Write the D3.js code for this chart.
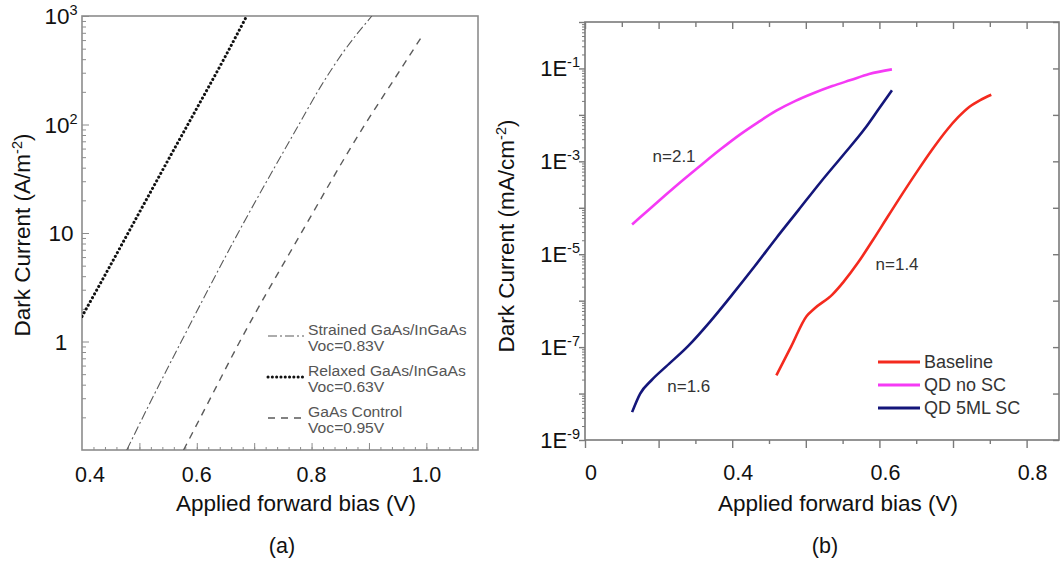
<!DOCTYPE html>
<html><head><meta charset="utf-8">
<script src="https://cdn.jsdelivr.net/npm/d3@7"></script>
<style>
body{margin:0;background:#fff}
svg{display:block}
text{font-family:"Liberation Sans",Arial,Helvetica,sans-serif}
</style>
</head><body>
<svg id="c" width="1061" height="562"></svg>
<script>
// ---------- Panel (a) data ----------
const aStrainedV = [0.478, 0.516, 0.573, 0.672, 0.778, 0.815, 0.852, 0.905];
const aStrainedJ = [0.1, 0.256, 1, 10, 100, 220, 440, 1000];
const aRelaxedV  = [0.400, 0.450, 0.500, 0.550, 0.600, 0.650, 0.687];
const aRelaxedJ  = [1.7, 5.1, 15.5, 47, 141, 427, 1000];
const aControlV  = [0.577, 0.617, 0.675, 0.782, 0.893, 0.945, 0.992];
const aControlJ  = [0.1, 0.256, 1, 10, 100, 266, 646];
const aXTickValues = [0.4, 0.6, 0.8, 1.0];
const aXTickLabels = ["0.4", "0.6", "0.8", "1.0"];
const aYTickValues = [1, 10, 100, 1000];
const aYTickBase   = ["1", "10", "10", "10"];
const aYTickSup    = ["", "", "2", "3"];
const aLegendNames = ["Strained GaAs/InGaAs", "Relaxed GaAs/InGaAs", "GaAs Control"];
const aLegendVoc   = ["Voc=0.83V", "Voc=0.63V", "Voc=0.95V"];

// ---------- Panel (b) data ----------
const bBaselineV = [0.460, 0.480, 0.501, 0.511, 0.536, 0.551, 0.571, 0.591, 0.611, 0.632, 0.652, 0.672, 0.692, 0.707, 0.722, 0.737, 0.752];
const bBaselineJ = [2.46e-8, 1.02e-7, 4.63e-7, 6.62e-7, 1.35e-6, 2.51e-6, 6.61e-6, 2.00e-5, 6.31e-5, 2.09e-4, 6.31e-4, 1.82e-3, 4.79e-3, 8.91e-3, 1.48e-2, 2.09e-2, 2.72e-2];
const bNoScV = [0.264, 0.284, 0.309, 0.334, 0.360, 0.385, 0.410, 0.435, 0.460, 0.486, 0.511, 0.536, 0.561, 0.586, 0.617];
const bNoScJ = [4.37e-5, 8.32e-5, 1.86e-4, 4.07e-4, 8.91e-4, 1.86e-3, 3.72e-3, 6.92e-3, 1.23e-2, 2.00e-2, 2.95e-2, 4.17e-2, 5.62e-2, 7.59e-2, 9.55e-2];
const b5mlV = [0.264, 0.275, 0.290, 0.310, 0.340, 0.370, 0.400, 0.430, 0.460, 0.490, 0.520, 0.550, 0.580, 0.600, 0.617];
const b5mlJ = [3.98e-9, 1.00e-8, 1.91e-8, 3.80e-8, 1.05e-7, 3.55e-7, 1.35e-6, 5.37e-6, 2.24e-5, 8.91e-5, 3.55e-4, 1.32e-3, 5.01e-3, 1.41e-2, 3.39e-2];
const bXTickValues = [0.2, 0.4, 0.6, 0.8];
const bXTickLabels = ["0", "0.4", "0.6", "0.8"];
const bYTickValues = [1e-1, 1e-3, 1e-5, 1e-7, 1e-9];
const bYTickSup    = ["-1", "-3", "-5", "-7", "-9"];
const bLegendNames = ["Baseline", "QD no SC", "QD 5ML SC"];
const bColors      = ["#f42a1e", "#f53af5", "#14167a"];
const bAnnotText = ["n=2.1", "n=1.6", "n=1.4"];
const bAnnotV    = [0.321, 0.341, 0.624];
const bAnnotJ    = [1.3e-3, 1.45e-8, 6.3e-6];

const svg = d3.select("#c");

// ================= Panel (a) =================
const xa = d3.scaleLinear().domain([0.4, 1.09]).range([82, 478]);
const ya = d3.scaleLog().domain([0.1, 1000]).range([450, 16]);
const ga = svg.append("g");
const frameA = "#8c8c8c";

const axMinor = d3.range(0.42, 1.0801, 0.02);
const axMajor = d3.range(0.5, 1.0801, 0.1);
ga.append("g").attr("transform", `translate(0,${ya.range()[0]})`)
  .call(d3.axisBottom(xa).tickValues(axMinor).tickSize(-3).tickFormat(""))
  .call(g => g.select(".domain").remove())
  .selectAll("line").attr("stroke", frameA);
ga.append("g").attr("transform", `translate(0,${ya.range()[0]})`)
  .call(d3.axisBottom(xa).tickValues(axMajor).tickSize(-7).tickFormat(""))
  .call(g => g.select(".domain").remove())
  .selectAll("line").attr("stroke", frameA);
const ayMinor = ya.ticks().filter(v => !aYTickValues.includes(v) && v > 0.1 && v < 1000);
ga.append("g").attr("transform", `translate(${xa.range()[0]},0)`)
  .call(d3.axisLeft(ya).tickValues(ayMinor).tickSize(-4).tickFormat(""))
  .call(g => g.select(".domain").remove())
  .selectAll("line").attr("stroke", frameA);
ga.append("g").attr("transform", `translate(${xa.range()[0]},0)`)
  .call(d3.axisLeft(ya).tickValues(aYTickValues).tickSize(-7).tickFormat(""))
  .call(g => g.select(".domain").remove())
  .selectAll("line").attr("stroke", frameA);
ga.append("rect").attr("x", xa.range()[0]).attr("y", ya.range()[1])
  .attr("width", xa.range()[1] - xa.range()[0]).attr("height", ya.range()[0] - ya.range()[1])
  .attr("fill", "none").attr("stroke", frameA).attr("stroke-width", 1.6);

ga.selectAll(".axl").data(aXTickValues).join("text")
  .attr("x", (d, i) => xa(d) + (i === 0 ? 8 : 0)).attr("y", 482)
  .attr("text-anchor", "middle").attr("font-size", 21.5).attr("fill", "#111")
  .text((d, i) => aXTickLabels[i]);
const ayl = ga.selectAll(".ayl").data(aYTickValues).join("text")
  .attr("x", 61).attr("y", d => ya(d) + 8)
  .attr("text-anchor", "middle").attr("font-size", 22.5).attr("fill", "#111");
ayl.append("tspan").text((d, i) => aYTickBase[i]);
ayl.append("tspan").attr("font-size", 14.5).attr("dy", -9).text((d, i) => aYTickSup[i]);

ga.append("text").attr("x", 296).attr("y", 511).attr("text-anchor", "middle")
  .attr("font-size", 22.5).attr("fill", "#111").text("Applied forward bias (V)");
const tA = ga.append("text").attr("transform", "translate(30,235) rotate(-90)")
  .attr("text-anchor", "middle").attr("font-size", 22.5).attr("fill", "#111");
tA.append("tspan").text("Dark Current (A/m");
tA.append("tspan").attr("font-size", 14.5).attr("dy", -8).text("-2");
tA.append("tspan").attr("dy", 8).text(")");
ga.append("text").attr("x", 282).attr("y", 553).attr("text-anchor", "middle")
  .attr("font-size", 21.5).attr("fill", "#111").text("(a)");

const lineA = d3.line().x(d => xa(d[0])).y(d => ya(d[1])).curve(d3.curveMonotoneX);
svg.append("clipPath").attr("id", "clipA").append("rect")
  .attr("x", 82).attr("y", 16).attr("width", 396).attr("height", 434);
const stylesA = [
  {v: aStrainedV, j: aStrainedJ, stroke: "#5a5a5a", w: 1.1, dash: "9,3,2,3", cap: "butt"},
  {v: aRelaxedV, j: aRelaxedJ, stroke: "#111", w: 3, dash: "0.1,4.2", cap: "round"},
  {v: aControlV, j: aControlJ, stroke: "#5a5a5a", w: 1.4, dash: "7,6", cap: "butt"}
];
stylesA.forEach(s => {
  ga.append("path").datum(s.v.map((v, i) => [v, s.j[i]]))
    .attr("clip-path", "url(#clipA)")
    .attr("d", lineA).attr("fill", "none").attr("stroke", s.stroke)
    .attr("stroke-width", s.w).attr("stroke-dasharray", s.dash).attr("stroke-linecap", s.cap);
});

// legend (a)
const legAY = [336, 377, 418];
const legANameY = [336, 377, 418];
stylesA.forEach((s, i) => {
  ga.append("line").attr("x1", 268).attr("x2", 304).attr("y1", legAY[i]).attr("y2", legAY[i])
    .attr("stroke", s.stroke).attr("stroke-width", s.w).attr("stroke-dasharray", s.dash).attr("stroke-linecap", s.cap);
  const t1 = ga.append("text").attr("x", 308).attr("y", legANameY[i] - 1).attr("font-size", 14).attr("fill", "#555").text(aLegendNames[i]);
  t1.attr("textLength", t1.node().getComputedTextLength() * 1.12).attr("lengthAdjust", "spacingAndGlyphs");
  const t2 = ga.append("text").attr("x", 308).attr("y", legANameY[i] + 15).attr("font-size", 14).attr("fill", "#555").text(aLegendVoc[i]);
  t2.attr("textLength", t2.node().getComputedTextLength() * 1.12).attr("lengthAdjust", "spacingAndGlyphs");
});

// ================= Panel (b) =================
const xb = d3.scaleLinear().domain([0.2, 0.844]).range([585, 1059]);
const yb = d3.scaleLog().domain([1e-9, 1]).range([440, 22]);
const gb = svg.append("g");
const frameB = "#7a7a7a";
const bxMajor = d3.range(0.2, 0.8001, 0.1);
const bxMinor = d3.range(0.25, 0.8001, 0.1);
gb.append("g").attr("transform", `translate(0,${yb.range()[0]})`)
  .call(d3.axisBottom(xb).tickValues(bxMajor).tickSize(8).tickFormat(""))
  .call(g => g.select(".domain").remove()).selectAll("line").attr("stroke", frameB).attr("stroke-width", 1.4);
gb.append("g").attr("transform", `translate(0,${yb.range()[0]})`)
  .call(d3.axisBottom(xb).tickValues(bxMinor).tickSize(4).tickFormat(""))
  .call(g => g.select(".domain").remove()).selectAll("line").attr("stroke", frameB).attr("stroke-width", 1.4);
gb.append("g").attr("transform", `translate(0,${yb.range()[1]})`)
  .call(d3.axisTop(xb).tickValues(bxMajor).tickSize(-7).tickFormat(""))
  .call(g => g.select(".domain").remove()).selectAll("line").attr("stroke", frameB).attr("stroke-width", 1.4);
gb.append("g").attr("transform", `translate(0,${yb.range()[1]})`)
  .call(d3.axisTop(xb).tickValues(bxMinor).tickSize(-5).tickFormat(""))
  .call(g => g.select(".domain").remove()).selectAll("line").attr("stroke", frameB).attr("stroke-width", 1.4);
const byDecades = d3.range(-9, 1).map(e => Math.pow(10, e));
const byMinor = yb.ticks().filter(v => Math.abs(Math.log10(v) - Math.round(Math.log10(v))) > 1e-6);
gb.append("g").attr("transform", `translate(${xb.range()[0]},0)`)
  .call(d3.axisLeft(yb).tickValues(byDecades).tickSize(6).tickFormat(""))
  .call(g => g.select(".domain").remove()).selectAll("line").attr("stroke", frameB).attr("stroke-width", 1.4);
gb.append("g").attr("transform", `translate(${xb.range()[0]},0)`)
  .call(d3.axisLeft(yb).tickValues(byMinor).tickSize(3).tickFormat(""))
  .call(g => g.select(".domain").remove()).selectAll("line").attr("stroke", frameB);
gb.append("g").attr("transform", `translate(${xb.range()[1]},0)`)
  .call(d3.axisRight(yb).tickValues(byDecades).tickSize(-6).tickFormat(""))
  .call(g => g.select(".domain").remove()).selectAll("line").attr("stroke", frameB).attr("stroke-width", 1.4);
gb.append("rect").attr("x", xb.range()[0]).attr("y", yb.range()[1])
  .attr("width", xb.range()[1] - xb.range()[0]).attr("height", yb.range()[0] - yb.range()[1])
  .attr("fill", "none").attr("stroke", frameB).attr("stroke-width", 1.6);

gb.selectAll(".bxl").data(bXTickValues).join("text")
  .attr("x", d => xb(d) + 6).attr("y", 480)
  .attr("text-anchor", "middle").attr("font-size", 21.5).attr("fill", "#111")
  .text((d, i) => bXTickLabels[i]);
const byl = gb.selectAll(".byl").data(bYTickValues).join("text")
  .attr("x", 580).attr("y", d => yb(d) + 8)
  .attr("text-anchor", "end").attr("font-size", 22).attr("fill", "#111");
byl.append("tspan").text("1E");
byl.append("tspan").attr("font-size", 14.5).attr("dy", -9).text((d, i) => bYTickSup[i]);

gb.append("text").attr("x", 838).attr("y", 511).attr("text-anchor", "middle")
  .attr("font-size", 22.5).attr("fill", "#111").text("Applied forward bias (V)");
const tB = gb.append("text").attr("transform", "translate(514,236) rotate(-90)")
  .attr("text-anchor", "middle").attr("font-size", 22.5).attr("fill", "#111");
tB.append("tspan").text("Dark Current (mA/cm");
tB.append("tspan").attr("font-size", 14.5).attr("dy", -8).text("-2");
tB.append("tspan").attr("dy", 8).text(")");
gb.append("text").attr("x", 825).attr("y", 553).attr("text-anchor", "middle")
  .attr("font-size", 21.5).attr("fill", "#111").text("(b)");

const lineB = d3.line().x(d => xb(d[0])).y(d => yb(d[1])).curve(d3.curveMonotoneX);
const seriesB = [[bBaselineV, bBaselineJ], [bNoScV, bNoScJ], [b5mlV, b5mlJ]];
seriesB.forEach((s, i) => {
  gb.append("path").datum(s[0].map((v, k) => [v, s[1][k]]))
    .attr("d", lineB).attr("fill", "none").attr("stroke", bColors[i])
    .attr("stroke-width", 2.6).attr("stroke-linejoin", "round");
});

gb.selectAll(".ann").data(bAnnotText).join("text")
  .attr("x", (d, i) => xb(bAnnotV[i])).attr("y", (d, i) => yb(bAnnotJ[i]) + 6)
  .attr("text-anchor", "middle").attr("font-size", 17).attr("fill", "#333").text(d => d);

const legBY = [362, 385, 408];
bLegendNames.forEach((n, i) => {
  gb.append("line").attr("x1", 878).attr("x2", 920).attr("y1", legBY[i]).attr("y2", legBY[i])
    .attr("stroke", bColors[i]).attr("stroke-width", 3);
  gb.append("text").attr("x", 924).attr("y", legBY[i] + 6).attr("font-size", 18).attr("fill", "#333").text(n);
});
</script>
</body></html>
